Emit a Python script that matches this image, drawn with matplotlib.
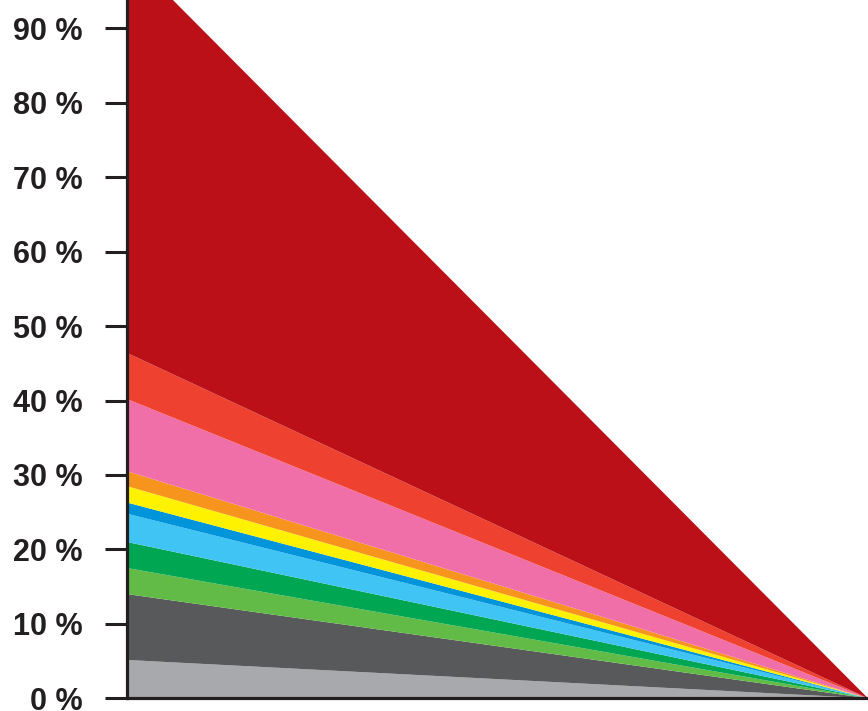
import matplotlib
matplotlib.use("Agg")
import matplotlib.pyplot as plt
from matplotlib.ticker import FuncFormatter

x = [0, 1]
series_names = ["s1", "s2", "s3", "s4", "s5", "s6", "s7", "s8", "s9", "s10", "s11"]
left_values = [5.15, 8.85, 3.5, 3.5, 3.8, 1.5, 2.2, 2.0, 9.7, 6.2, 53.6]
right_values = [0, 0, 0, 0, 0, 0, 0, 0, 0, 0, 0]
colors = ["#a7a9ac", "#58595b", "#62bb46", "#00a651", "#40c4f3", "#0095da",
          "#fff200", "#f7941d", "#f06fa8", "#ef4130", "#bc1018"]
yticks = [0, 10, 20, 30, 40, 50, 60, 70, 80, 90]

fig = plt.figure(figsize=(8.68, 7.11), dpi=100)
ax = fig.add_axes([127 / 868, 12.7 / 711, 1 - 127 / 868, 744.4 / 711])

ys = [[l, r] for l, r in zip(left_values, right_values)]
ax.stackplot(x, ys, colors=colors, linewidth=0)

ax.set_xlim(0, 1)
ax.set_ylim(0, 100)
ax.set_xticks([])
ax.set_yticks(yticks)
ax.yaxis.set_major_formatter(FuncFormatter(lambda v, p: f"{int(v)} %"))
for lab in ax.get_yticklabels():
    lab.set_fontfamily("Liberation Sans")
    lab.set_fontweight("bold")
    lab.set_fontsize(22)
    lab.set_color("#231f20")
ax.tick_params(axis="y", direction="out", length=15.8, width=2.2, color="#231f20", pad=16)
for s in ["top", "right"]:
    ax.spines[s].set_visible(False)
for s in ["left", "bottom"]:
    ax.spines[s].set_linewidth(2.3)
    ax.spines[s].set_color("#231f20")
    ax.spines[s].set_zorder(5)

fig.savefig("out.png", dpi=100)
